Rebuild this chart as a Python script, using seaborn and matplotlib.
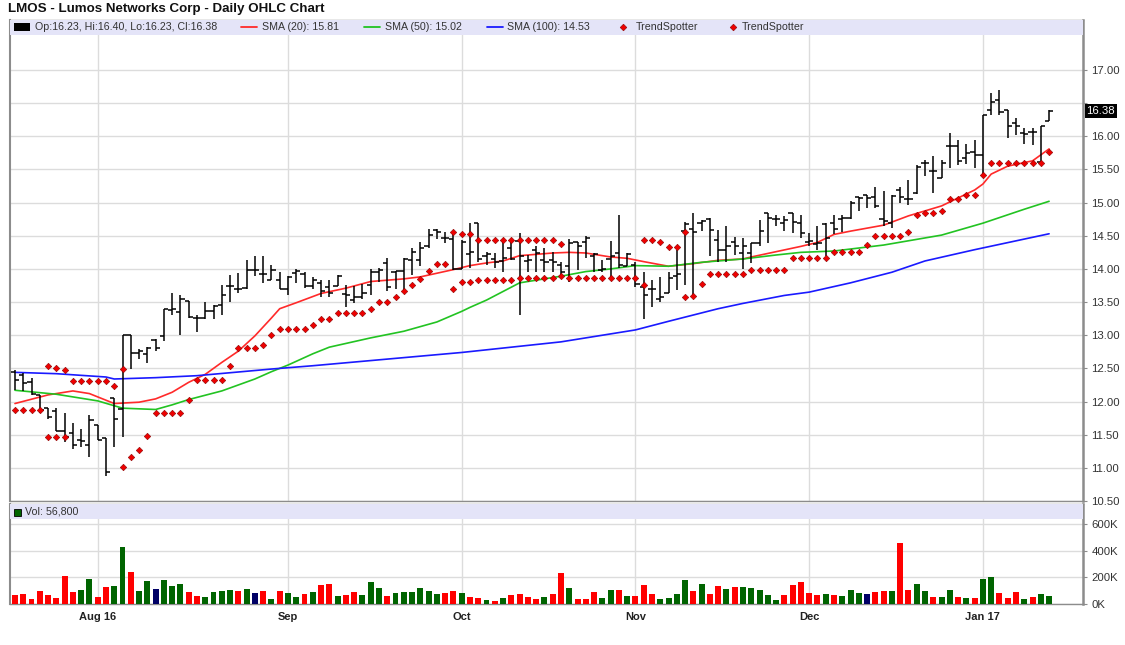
import numpy as np
import pandas as pd
import matplotlib
matplotlib.use("Agg")
import matplotlib.pyplot as plt
import matplotlib.transforms as mtransforms
from matplotlib.lines import Line2D
from matplotlib.patches import Rectangle
import seaborn as sns

sns.set_style("white")
plt.rcParams["font.family"] = ["Liberation Sans", "DejaVu Sans"]

# ---- data ----
title = "LMOS - Lumos Networks Corp - Daily OHLC Chart"

month_idx = [10, 33, 54, 75, 96, 117]
month_lbl = ["Aug 16", "Sep", "Oct", "Nov", "Dec", "Jan 17"]

opens = [12.45, 12.40, 12.30, 12.10, 11.90, 11.85, 11.55, 11.52, 11.42, 11.34,
         11.65, 11.45, 12.05, 11.89, 13.00, 12.73, 12.72, 12.93, 12.99, 13.38,
         13.35, 13.52, 13.26, 13.26, 13.36, 13.46, 13.74, 13.70, 13.71, 13.99,
         13.93, 13.84, 13.84, 13.70, 13.94, 13.92, 13.74, 13.79, 13.72, 13.74,
         13.62, 13.53, 13.57, 13.76, 13.95, 14.09, 13.96, 13.97, 14.14, 14.14,
         14.34, 14.59, 14.46, 14.45, 14.00, 14.22, 14.69, 14.20, 14.15, 14.12,
         14.31, 14.42, 14.12, 14.29, 14.14, 14.14, 14.06, 14.05, 14.40, 14.40,
         14.20, 13.98, 14.15, 14.24, 14.05, 14.06, 13.73, 13.70, 13.55, 13.63,
         13.90, 14.57, 14.60, 14.69, 14.75, 14.44, 14.29, 14.40, 14.24, 14.24,
         14.39, 14.85, 14.76, 14.70, 14.84, 14.70, 14.40, 14.37, 14.67, 14.70,
         14.76, 14.77, 15.08, 15.11, 15.09, 14.75, 14.70, 15.19, 15.06, 15.15,
         15.59, 15.47, 15.37, 15.85, 15.85, 15.68, 15.77, 15.72, 16.40, 16.54,
         16.40, 16.20, 16.05, 16.07, 15.62, 16.23]
highs = [12.47, 12.43, 12.35, 12.10, 11.90, 11.90, 11.83, 11.67, 11.58, 11.79,
         11.65, 11.45, 12.05, 13.01, 13.01, 12.79, 12.83, 12.94, 13.39, 13.64,
         13.61, 13.52, 13.31, 13.50, 13.46, 13.75, 13.91, 13.94, 14.14, 14.20,
         14.20, 14.06, 13.96, 13.89, 14.00, 13.95, 13.88, 13.84, 13.83, 13.91,
         13.75, 13.74, 13.78, 14.00, 14.01, 14.16, 13.97, 14.16, 14.31, 14.41,
         14.60, 14.60, 14.55, 14.56, 14.44, 14.69, 14.70, 14.26, 14.24, 14.44,
         14.42, 14.54, 14.21, 14.34, 14.31, 14.26, 14.11, 14.45, 14.40, 14.50,
         14.24, 14.14, 14.42, 14.82, 14.24, 14.10, 13.96, 13.83, 13.88, 13.96,
         14.29, 14.71, 14.84, 14.74, 14.77, 14.59, 14.64, 14.48, 14.47, 14.39,
         14.74, 14.85, 14.82, 14.80, 14.85, 14.82, 14.54, 14.64, 14.69, 14.81,
         14.82, 15.03, 15.08, 15.12, 15.24, 15.17, 15.12, 15.23, 15.34, 15.57,
         15.64, 15.70, 15.64, 16.05, 15.94, 15.89, 15.94, 16.32, 16.65, 16.70,
         16.40, 16.27, 16.12, 16.12, 16.15, 16.40]
lows = [12.17, 12.16, 12.10, 11.82, 11.74, 11.55, 11.39, 11.28, 11.31, 11.16,
        11.42, 10.88, 11.31, 11.47, 12.49, 12.64, 12.58, 12.76, 12.91, 13.30,
        13.01, 13.26, 13.05, 13.24, 13.24, 13.30, 13.50, 13.64, 13.70, 13.89,
        13.79, 13.84, 13.69, 13.61, 13.79, 13.71, 13.69, 13.58, 13.58, 13.74,
        13.43, 13.49, 13.54, 13.60, 13.81, 13.66, 13.69, 13.66, 13.91, 14.04,
        14.31, 14.45, 14.39, 13.99, 14.00, 14.02, 14.10, 14.06, 14.01, 13.96,
        14.14, 13.30, 13.96, 13.96, 13.96, 13.96, 13.86, 13.81, 13.98, 14.16,
        13.96, 13.96, 13.88, 14.01, 14.05, 13.72, 13.25, 13.42, 13.50, 13.63,
        13.68, 13.76, 13.60, 14.57, 14.19, 14.11, 14.11, 14.21, 14.00, 14.09,
        14.34, 14.39, 14.64, 14.57, 14.54, 14.47, 14.34, 14.29, 14.19, 14.52,
        14.55, 14.76, 14.87, 14.92, 14.92, 14.65, 14.62, 14.99, 14.97, 15.13,
        15.40, 15.14, 15.37, 15.52, 15.57, 15.58, 15.52, 15.40, 16.32, 16.32,
        15.97, 16.02, 15.89, 15.87, 15.62, 16.23]
closes = [12.33, 12.28, 12.12, 11.87, 11.76, 11.56, 11.47, 11.34, 11.41, 11.72,
          11.42, 10.93, 11.73, 13.00, 12.73, 12.76, 12.80, 12.80, 13.39, 13.40,
          13.54, 13.27, 13.26, 13.36, 13.44, 13.61, 13.74, 13.70, 13.99, 13.99,
          13.92, 13.98, 13.70, 13.88, 13.97, 13.74, 13.83, 13.66, 13.64, 13.89,
          13.60, 13.58, 13.64, 13.95, 13.98, 13.73, 13.97, 14.15, 14.25, 14.31,
          14.51, 14.55, 14.46, 14.00, 14.41, 14.25, 14.15, 14.22, 14.10, 14.17,
          14.15, 14.20, 14.13, 14.24, 14.11, 14.10, 13.96, 14.39, 14.34, 14.47,
          14.23, 14.00, 14.19, 14.06, 14.23, 13.78, 13.60, 13.70, 13.58, 13.87,
          13.92, 14.67, 14.55, 14.73, 14.59, 14.29, 14.35, 14.34, 14.34, 14.39,
          14.57, 14.77, 14.76, 14.74, 14.71, 14.54, 14.42, 14.39, 14.47, 14.60,
          14.77, 15.00, 15.07, 15.07, 14.95, 14.72, 15.10, 15.09, 15.05, 15.54,
          15.59, 15.47, 15.59, 15.85, 15.63, 15.75, 15.72, 16.32, 16.52, 16.36,
          16.15, 16.15, 16.04, 16.07, 16.15, 16.38]

# volume in thousands, and up/down/unchanged colour code
vol_k = [67, 75, 37, 97, 67, 45, 210, 90, 105, 187,
         52, 127, 135, 427, 240, 97, 172, 112, 180, 135,
         150, 90, 60, 52, 90, 97, 105, 97, 112, 82,
         97, 37, 97, 82, 52, 75, 90, 142, 150, 60,
         67, 90, 67, 165, 120, 60, 82, 90, 90, 120,
         97, 75, 82, 97, 82, 52, 45, 30, 22, 45,
         67, 75, 52, 37, 52, 75, 232, 120, 37, 37,
         90, 45, 105, 105, 60, 60, 142, 75, 37, 45,
         75, 180, 97, 150, 75, 135, 112, 127, 127, 120,
         105, 67, 30, 67, 142, 165, 82, 67, 75, 67,
         60, 105, 82, 75, 90, 97, 97, 457, 105, 150,
         97, 52, 52, 105, 52, 45, 45, 187, 202, 82,
         45, 90, 37, 52, 75, 56.8]
vol_dir = list("dddddddduu" "dduuduunuu" "udduuuudun" "duduududdu"
               "dduuuduuuu" "uudduddudu" "dddduddudd" "duududdduu"
               "uududduduu" "uuudddddud" "uuundduddu" "uduududuud"
               "dduduu")

sma20_x = [0, 4, 7, 9, 12, 15, 17, 19, 21, 23, 25, 27, 29, 31, 32, 34, 37, 40,
           43, 47, 49, 53, 55, 57, 59, 61, 65, 67, 69, 72, 74, 76, 79, 82, 85,
           88, 89, 92, 95, 97, 99, 101, 105, 108, 112, 116, 117, 118, 120, 123, 125]
sma20_y = [11.97, 12.10, 12.16, 12.12, 11.97, 11.99, 12.04, 12.14, 12.29, 12.41,
           12.59, 12.76, 12.99, 13.26, 13.40, 13.49, 13.63, 13.71, 13.81, 13.85,
           13.88, 13.99, 14.05, 14.09, 14.12, 14.20, 14.24, 14.25, 14.24, 14.18,
           14.16, 14.11, 14.04, 14.08, 14.13, 14.15, 14.18, 14.26, 14.34, 14.40,
           14.52, 14.57, 14.66, 14.80, 14.95, 15.19, 15.28, 15.43, 15.55, 15.63, 15.81]

sma50_x = [0, 5, 10, 13, 17, 19, 21, 25, 29, 31, 33, 36, 38, 43, 47, 51, 54, 55,
           57, 61, 66, 69, 72, 75, 79, 83, 88, 92, 95, 99, 101, 105, 112, 117, 122, 125]
sma50_y = [12.17, 12.11, 12.01, 11.90, 11.88, 11.95, 12.03, 12.16, 12.34, 12.45,
           12.55, 12.72, 12.82, 12.96, 13.06, 13.20, 13.36, 13.42, 13.53, 13.79,
           13.89, 13.96, 14.00, 14.05, 14.04, 14.10, 14.15, 14.21, 14.25, 14.27,
           14.30, 14.36, 14.51, 14.69, 14.90, 15.02]

sma100_x = [0, 5, 11, 12, 17, 22, 31, 36, 45, 54, 66, 75, 79, 85, 88, 93, 96,
            101, 106, 110, 116, 122, 125]
sma100_y = [12.44, 12.42, 12.37, 12.34, 12.36, 12.39, 12.49, 12.54, 12.64, 12.74,
            12.90, 13.08, 13.21, 13.40, 13.48, 13.60, 13.65, 13.79, 13.95, 14.12,
            14.29, 14.45, 14.53]

N = None
ts_lo = [11.87, 11.87, 11.87, 11.87, 11.46, 11.46, 11.46, N, N, N,
         N, N, N, 11.01, 11.16, 11.27, 11.48, 11.82, 11.82, 11.82,
         11.82, 12.02, 12.33, 12.33, 12.33, 12.33, 12.54, 12.81, 12.81, 12.81,
         12.86, 13.00, 13.10, 13.10, 13.10, 13.10, 13.15, 13.24, 13.24, 13.33,
         13.33, 13.33, 13.33, 13.39, 13.50, 13.50, 13.58, 13.67, 13.75, 13.85,
         13.97, 14.08, 14.08, 13.70, 13.80, 13.80, 13.83, 13.83, 13.83, 13.83,
         13.83, 13.86, 13.86, 13.86, 13.86, 13.86, 13.90, 13.86, 13.86, 13.86,
         13.86, 13.86, 13.86, 13.86, 13.86, 13.86, 13.75, N, N, N,
         N, 13.58, 13.59, 13.77, 13.92, 13.92, 13.92, 13.92, 13.92, 13.98,
         13.98, 13.98, 13.98, 13.98, 14.16, 14.16, 14.16, 14.16, 14.16, 14.25,
         14.25, 14.25, 14.25, 14.36, 14.49, 14.49, 14.49, 14.49, 14.55, 14.81,
         14.85, 14.85, 14.88, 15.05, 15.05, 15.11, 15.11, 15.41, 15.59, 15.59,
         15.59, 15.59, 15.59, 15.59, 15.59, 15.76]
ts_hi = [N, N, N, N, 12.53, 12.50, 12.47, 12.31, 12.31, 12.31,
         12.31, 12.31, 12.23, 12.49, N, N, N, N, N, N,
         N, N, N, N, N, N, N, N, N, N,
         N, N, N, N, N, N, N, N, N, N,
         N, N, N, N, N, N, N, N, N, N,
         N, N, N, 14.56, 14.53, 14.53, 14.44, 14.44, 14.44, 14.44,
         14.44, 14.44, 14.44, 14.44, 14.44, 14.44, 14.38, N, N, N,
         N, N, N, N, N, N, 14.44, 14.44, 14.41, 14.33,
         14.33, 14.56, N, N, N, N, N, N, N, N,
         N, N, N, N, N, N, N, N, N, N,
         N, N, N, N, N, N, N, N, N, N,
         N, N, N, N, N, N, N, N, N, N,
         N, N, N, N, N, N]

# ---- frame ----
W, H = 1125, 645
fig = plt.figure(figsize=(W / 100, H / 100), dpi=100)
fig.patch.set_facecolor("white")


def px_axes(l, t, r, b):
    return fig.add_axes([l / W, 1 - b / H, (r - l) / W, (b - t) / H])


ax = px_axes(10, 20, 1083, 501)
axv = px_axes(10, 504, 1083, 604)

x = np.arange(len(closes))
ohlc = pd.DataFrame({"x": x, "o": opens, "h": highs, "l": lows, "c": closes})
grid_c = "#dcdcdc"
spine_c = "#8c8c8c"
tick_c = "#333333"

# ---- price panel ----
ax.vlines(ohlc.x, ohlc.l, ohlc.h, color="black", lw=1.1, zorder=4)
ax.hlines(ohlc.o, ohlc.x - 0.5, ohlc.x, color="black", lw=1.1, zorder=4)
ax.hlines(ohlc.c, ohlc.x, ohlc.x + 0.5, color="black", lw=1.1, zorder=4)

sns.lineplot(x=sma20_x, y=sma20_y, ax=ax, color="#ff2a2a", lw=1.2, zorder=3)
sns.lineplot(x=sma50_x, y=sma50_y, ax=ax, color="#22c322", lw=1.2, zorder=3)
sns.lineplot(x=sma100_x, y=sma100_y, ax=ax, color="#1a1aff", lw=1.2, zorder=3)

ts = pd.DataFrame({"x": x, "lo": pd.Series(ts_lo, dtype=float),
                   "hi": pd.Series(ts_hi, dtype=float)})
for col in ["lo", "hi"]:
    sns.scatterplot(data=ts, x="x", y=col, ax=ax, marker="D", s=11,
                    color="#ee0000", edgecolor="#8b0000", linewidth=0.4, zorder=5)

ax.set_xlim(-0.6, 129.1)
ax.set_ylim(10.5, 17.754)
yt = np.arange(10.5, 17.01, 0.5)
ax.set_yticks(yt)
ax.set_yticklabels(["" if abs(v - 16.5) < 1e-6 else f"{v:.2f}" for v in yt])
ax.yaxis.tick_right()
ax.set_xticks(month_idx)
ax.set_xticklabels([])
ax.tick_params(axis="x", length=0)
ax.tick_params(axis="y", length=3, color=spine_c, labelsize=8.2, labelcolor=tick_c, pad=3)
ax.grid(True, color=grid_c, lw=1)
ax.set_axisbelow(True)
ax.set_xlabel("")
ax.set_ylabel("")
for s in ax.spines.values():
    s.set_color(spine_c)
    s.set_linewidth(1)
ax.spines["right"].set_linewidth(1.8)
ax.spines["left"].set_linewidth(1.5)

# legend band
ax.add_patch(Rectangle((0, 1 - 15 / 481), 1, 15 / 481, transform=ax.transAxes,
                       facecolor="#e4e4f8", edgecolor="none", zorder=6))

# last price tag
tr = mtransforms.blended_transform_factory(ax.transAxes, ax.transData)
ax.text(1.003, closes[-1], f"{closes[-1]:.2f}", transform=tr, color="white",
        fontsize=8.2, va="center", ha="left", clip_on=False, zorder=7,
        bbox=dict(facecolor="black", edgecolor="none", pad=1.2))

# ---- volume panel ----
vol = pd.DataFrame({"x": x, "v": np.array(vol_k) * 1000, "d": vol_dir})
sns.barplot(data=vol, x="x", y="v", hue="d", ax=axv, native_scale=True,
            dodge=False, width=0.72, saturation=1, errorbar=None, legend=False,
            linewidth=0,
            palette={"u": "#006400", "d": "#ff0000", "n": "#000066"}, zorder=3)
axv.set_xlim(-0.6, 129.1)
axv.set_ylim(0, 750000)
axv.set_yticks([0, 200000, 400000, 600000])
axv.set_yticklabels(["0K", "200K", "400K", "600K"])
axv.yaxis.tick_right()
axv.set_xticks(month_idx)
axv.set_xticklabels(month_lbl, fontsize=8, fontweight="bold", color="#222222")
axv.tick_params(axis="x", length=3, color="#222222", pad=3)
axv.tick_params(axis="y", length=3, color=spine_c, labelsize=8.2, labelcolor=tick_c, pad=3)
axv.grid(True, color=grid_c, lw=1)
axv.set_axisbelow(True)
axv.set_xlabel("")
axv.set_ylabel("")
for s in axv.spines.values():
    s.set_color(spine_c)
    s.set_linewidth(1)
axv.spines["right"].set_linewidth(1.8)
axv.spines["left"].set_linewidth(1.5)
axv.add_patch(Rectangle((0, 1 - 15 / 100), 1, 15 / 100, transform=axv.transAxes,
                        facecolor="#e4e4f8", edgecolor="none", zorder=6))

# ---- texts and legend ----
def ftext(px, py, s, **kw):
    fig.text(px / W, 1 - py / H, s, va="center", ha="left", **kw)


def fline(x1, x2, py, c):
    fig.add_artist(Line2D([x1 / W, x2 / W], [1 - py / H] * 2, color=c, lw=1.3))


def fdiamond(px, py):
    fig.add_artist(Line2D([px / W], [1 - py / H], marker="D", ms=3.4, color="#ee0000",
                          markeredgecolor="#8b0000", markeredgewidth=0.4, lw=0))


ftext(8, 9, title, fontsize=9.6, fontweight="bold", color="#111111")

fig.add_artist(Rectangle((14 / W, 1 - 31 / H), 16 / W, 8 / H, facecolor="black",
                         edgecolor="none"))
ftext(35, 27, f"Op:{opens[-1]:.2f}, Hi:{highs[-1]:.2f}, Lo:{lows[-1]:.2f}, Cl:{closes[-1]:.2f}",
      fontsize=7.7, color=tick_c)
fline(241, 257, 27, "#ff2a2a")
ftext(262, 27, f"SMA (20): {sma20_y[-1]:.2f}", fontsize=7.7, color=tick_c)
fline(364, 380, 27, "#22c322")
ftext(385, 27, f"SMA (50): {sma50_y[-1]:.2f}", fontsize=7.7, color=tick_c)
fline(487, 503, 27, "#1a1aff")
ftext(507, 27, f"SMA (100): {sma100_y[-1]:.2f}", fontsize=7.7, color=tick_c)
fdiamond(623, 27)
ftext(636, 27, "TrendSpotter", fontsize=7.7, color=tick_c)
fdiamond(733, 27)
ftext(742, 27, "TrendSpotter", fontsize=7.7, color=tick_c)

fig.add_artist(Rectangle((14 / W, 1 - 516 / H), 7 / W, 7 / H, facecolor="#006400",
                         edgecolor="black", lw=0.6))
ftext(25, 512, f"Vol: {vol_k[-1] * 1000:,.0f}", fontsize=7.7, color=tick_c)

fig.savefig("out.png", dpi=100)
